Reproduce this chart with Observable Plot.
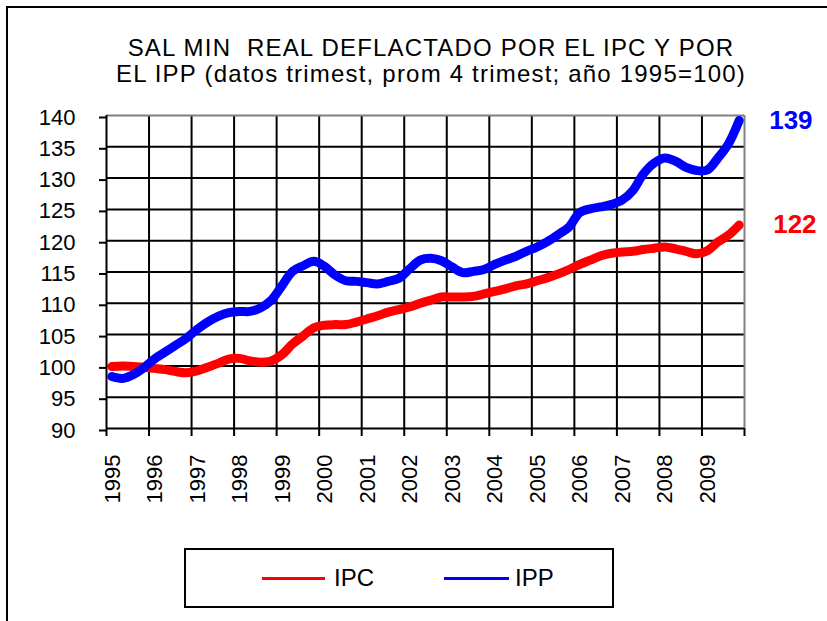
<!DOCTYPE html>
<html>
<head>
<meta charset="utf-8">
<script src="https://cdn.jsdelivr.net/npm/d3@7"></script>
<script src="https://cdn.jsdelivr.net/npm/@observablehq/plot@0.6"></script>
<style>
  html, body { margin: 0; padding: 0; background: #fff; }
  #wrap { position: relative; width: 827px; height: 621px; overflow: hidden; font-family: "Liberation Sans", Arial, sans-serif; }
  #frame { position: absolute; left: 6px; top: 6px; width: 900px; height: 700px; border-left: 2px solid #000; border-top: 2px solid #000; }
  #title { position: absolute; left: 0; top: 35px; width: 862px; text-align: center; font-size: 24px; letter-spacing: 1.2px; line-height: 26px; color: #000; white-space: pre; }
  #chart { position: absolute; left: 0; top: 90px; }
  #legend { position: absolute; left: 184px; top: 548px; width: 430px; height: 60px; box-sizing: border-box; border: 2px solid #000; background: #fff; }
  .sw { position: absolute; height: 3px; top: 27px; }
  .lt { position: absolute; top: 14px; font-size: 24px; line-height: 28px; }
</style>
</head>
<body>
<div id="wrap">
  <div id="frame"></div>
  <div id="chart"></div>
  <div id="title"></div>
  <div id="legend"></div>
</div>
<script>
const titleLines = ["SAL MIN  REAL DEFLACTADO POR EL IPC Y POR", "EL IPP (datos trimest, prom 4 trimest; año 1995=100)"];
const years = [1995, 1996, 1997, 1998, 1999, 2000, 2001, 2002, 2003, 2004, 2005, 2006, 2007, 2008, 2009];
const yTicks = [90, 95, 100, 105, 110, 115, 120, 125, 130, 135, 140];
const seriesNames = ["IPC", "IPP"];
const seriesColors = ["#ff0000", "#0000ff"];
const ipc = [
  99.9, 100.0, 99.9, 99.8,
  99.6, 99.4, 99.1, 98.9,
  99.2, 99.8, 100.4, 101.1,
  101.2, 100.8, 100.6, 100.8,
  101.8, 103.5, 104.8, 106.1,
  106.5, 106.6, 106.6, 107.0,
  107.5, 108.0, 108.6, 109.0,
  109.4, 110.0, 110.5, 111.0,
  111.0, 111.0, 111.1, 111.5,
  111.9, 112.3, 112.8, 113.1,
  113.6, 114.1, 114.7, 115.4,
  116.2, 116.9, 117.6, 118.0,
  118.2, 118.3, 118.6, 118.8,
  119.0, 118.7, 118.3, 117.9,
  118.4, 119.8, 120.9, 122.5
];
const ipp = [
  98.3, 98.0, 98.6, 99.7,
  101.1, 102.2, 103.3, 104.4,
  105.8, 107.0, 107.9, 108.5,
  108.7, 108.7, 109.3, 110.5,
  112.8, 115.1, 116.0, 116.7,
  115.9, 114.5, 113.6, 113.5,
  113.3, 113.1, 113.5, 114.0,
  115.5, 116.9, 117.2, 116.8,
  115.8, 114.9, 115.1, 115.4,
  116.2, 116.9, 117.5, 118.3,
  119.0, 119.9, 121.0, 122.2,
  124.5, 125.1, 125.4, 125.8,
  126.5, 128.0, 130.7, 132.4,
  133.2, 132.7, 131.7, 131.2,
  131.3, 133.2, 135.5, 139.2
];
const endLabels = ["122", "139"];

// time of each quarterly point (middle of quarter)
const quarterTime = (i) => years[0] + (i + 0.5) / 4;
const rows = [];
ipc.forEach((v, i) => rows.push({t: quarterTime(i), v, s: seriesNames[0]}));
ipp.forEach((v, i) => rows.push({t: quarterTime(i), v, s: seriesNames[1]}));
const lastT = quarterTime(ipc.length - 1);
const endIpc = [{t: lastT, v: ipc[ipc.length - 1], label: endLabels[0], s: seriesNames[0]}];
const endIpp = [{t: lastT, v: ipp[ipp.length - 1], label: endLabels[1], s: seriesNames[1]}];
const xEnd = years[years.length - 1] + 1;
const tickYears = [...years, xEnd];

document.getElementById("title").textContent = titleLines.join("\n");

const H = 450;
const chart = Plot.plot({
  width: 827,
  height: H,
  marginTop: 25,
  marginBottom: H - 338,
  marginLeft: 106,
  marginRight: 83,
  style: {fontFamily: "'Liberation Sans', Arial, sans-serif", background: "transparent", overflow: "visible", color: "#000"},
  x: {domain: [years[0], xEnd], label: null},
  y: {domain: [yTicks[0], yTicks[yTicks.length - 1]], label: null},
  color: {domain: seriesNames, range: seriesColors},
  marks: [
    Plot.ruleY(yTicks.slice(1, -1), {stroke: "#000", strokeWidth: 2}),
    Plot.ruleX(years.slice(1), {stroke: "#000", strokeWidth: 2}),
    Plot.ruleY([yTicks[yTicks.length - 1]], {stroke: "#808080", strokeWidth: 2}),
    Plot.ruleX([xEnd], {stroke: "#808080", strokeWidth: 2}),
    Plot.ruleY([yTicks[0]], {stroke: "#000", strokeWidth: 2}),
    Plot.ruleX([years[0]], {stroke: "#000", strokeWidth: 2}),
    Plot.axisY({ticks: yTicks, label: null, tickSize: 7, tickPadding: 24, fontSize: 22, strokeWidth: 2, dy: 2, tickFormat: d => String(d)}),
    Plot.axisX({ticks: tickYears, label: null, tickSize: 8, strokeWidth: 2, tickFormat: () => ""}),
    Plot.text(years, {x: d => d, y: yTicks[0], text: d => String(d), rotate: -90, textAnchor: "end", dx: 6, dy: 26, fontSize: 22, fill: "#000"}),
    Plot.line(rows, {x: "t", y: "v", z: "s", stroke: "s", strokeWidth: 9, strokeLinecap: "round", strokeLinejoin: "round", curve: "catmull-rom"}),
    Plot.text(endIpc, {x: "t", y: "v", text: "label", fill: "s", textAnchor: "start", dx: 34, fontSize: 26, fontWeight: "bold"}),
    Plot.text(endIpp, {x: "t", y: "v", text: "label", fill: "s", textAnchor: "start", dx: 30, fontSize: 26, fontWeight: "bold"})
  ]
});
document.getElementById("chart").appendChild(chart);

const legend = document.getElementById("legend");
const legendItems = [
  {name: seriesNames[0], color: seriesColors[0], x1: 76, x2: 139, tx: 148},
  {name: seriesNames[1], color: seriesColors[1], x1: 258, x2: 323, tx: 329}
];
legendItems.forEach(it => {
  const sw = document.createElement("div");
  sw.className = "sw";
  sw.style.left = it.x1 + "px";
  sw.style.width = (it.x2 - it.x1) + "px";
  sw.style.background = it.color;
  legend.appendChild(sw);
  const t = document.createElement("div");
  t.className = "lt";
  t.style.left = it.tx + "px";
  t.textContent = it.name;
  legend.appendChild(t);
});
</script>
</body>
</html>
